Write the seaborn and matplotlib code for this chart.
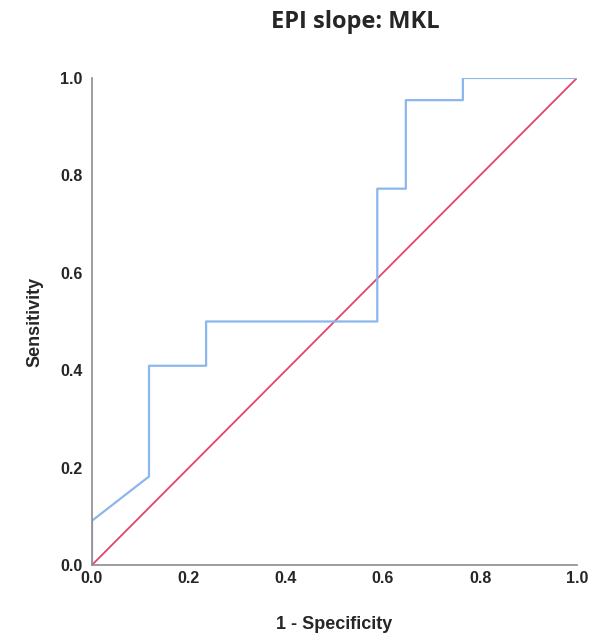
import matplotlib
matplotlib.use('Agg')
import matplotlib.pyplot as plt
import seaborn as sns
import pandas as pd

# ROC curve points (1 - specificity, sensitivity)
fpr = [0.0, 0.0, 0.1176, 0.1176, 0.2353, 0.2353, 0.5882, 0.5882, 0.6471, 0.6471, 0.7647, 0.7647, 1.0]
tpr = [0.0, 0.0909, 0.1818, 0.4091, 0.4091, 0.5, 0.5, 0.7727, 0.7727, 0.9545, 0.9545, 1.0, 1.0]
ref_x = [0.0, 1.0]
ref_y = [0.0, 1.0]
ticks = [0.0, 0.2, 0.4, 0.6, 0.8, 1.0]

roc = pd.DataFrame({'fpr': fpr, 'tpr': tpr})
ref = pd.DataFrame({'x': ref_x, 'y': ref_y})

sns.set_style('white')
fig = plt.figure(figsize=(5.98, 6.37), dpi=100)
ax = fig.add_axes([0.1538, 0.113, 0.8111, 0.7646])

# diagonal reference line, then the ROC step curve
sns.lineplot(data=ref, x='x', y='y', ax=ax, color='#e3456a', linewidth=1.3)
sns.lineplot(data=roc, x='fpr', y='tpr', ax=ax, color='#8cb6ee', linewidth=1.6, sort=False, estimator=None)

ax.set_xlim(0, 1)
ax.set_ylim(0, 1)
ax.set_xticks(ticks)
ax.set_yticks(ticks)
ax.set_xticklabels([f'{t:.1f}' for t in ticks], fontweight='bold', fontsize=11.5, family='Liberation Sans')
ax.set_yticklabels([f'{t:.1f}' for t in ticks], fontweight='bold', fontsize=11.5, family='Liberation Sans')
ax.tick_params(axis='y', length=0, pad=7)
ax.tick_params(axis='x', length=0, pad=4)
sns.despine(ax=ax)
for s in ['left', 'bottom']:
    ax.spines[s].set_color('#8c8c8c')
    ax.spines[s].set_linewidth(1.2)

ax.set_xlabel('1 - Specificity', fontweight='bold', fontsize=13, family='Liberation Sans', labelpad=22)
ax.set_ylabel('Sensitivity', fontweight='bold', fontsize=13, family='Liberation Sans', labelpad=12)

fig.text(0.595, 0.965, 'EPI slope: MKL', ha='center', va='center', fontweight='bold', fontsize=17, family='Open Sans')

fig.savefig('out.png', dpi=100)
